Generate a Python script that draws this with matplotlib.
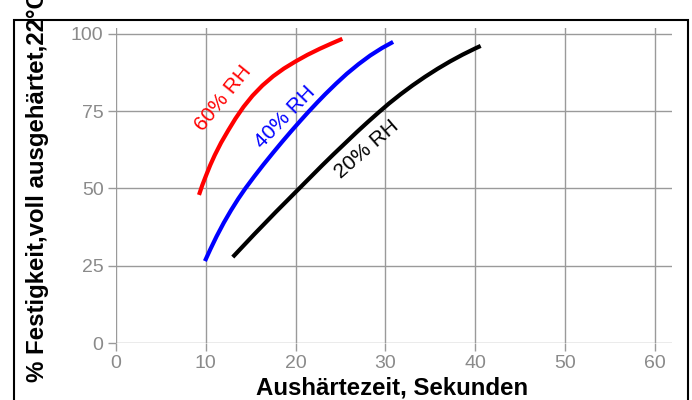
import matplotlib as mpl
mpl.use('Agg')
import matplotlib.pyplot as plt
from matplotlib.patches import Rectangle

plt.rcParams['font.family'] = ['Liberation Sans', 'DejaVu Sans']

# curves: cure time (s) vs % strength
rh60_x = [9.24, 9.6, 10.0, 10.5, 11.0, 11.7, 12.5, 13.3, 14.2, 15.2, 16.3, 17.5,
          18.7, 20.0, 21.3, 22.7, 24.0, 25.2]
rh60_y = [47.9, 51.0, 54.0, 57.6, 60.8, 64.8, 68.8, 72.6, 76.4, 80.0, 83.3, 86.3,
          88.8, 91.1, 93.2, 95.2, 96.9, 98.4]
rh40_x = [9.9, 10.5, 11.2, 12.0, 12.8, 13.6, 14.4, 15.4, 16.4, 17.5, 18.5, 19.5,
          20.5, 21.4, 22.4, 23.3, 24.5, 25.7, 27.0, 28.3, 29.6, 30.85]
rh40_y = [26.5, 30.3, 34.5, 38.9, 42.9, 46.6, 50.0, 53.9, 57.65, 61.6, 65.1, 68.5,
          71.8, 74.7, 77.8, 80.5, 83.9, 87.1, 90.2, 93.0, 95.4, 97.4]
rh20_x = [13.0, 14.2, 15.4, 16.6, 17.8, 19.0, 20.3, 21.6, 22.9, 24.2, 25.5, 26.8,
          28.0, 29.2, 30.4, 31.7, 33.0, 34.4, 35.8, 37.2, 38.6, 40.0, 40.6]
rh20_y = [27.8, 31.5, 35.2, 38.8, 42.4, 45.9, 49.7, 53.5, 57.3, 61.0, 64.6, 68.2,
          71.4, 74.5, 77.5, 80.5, 83.3, 86.1, 88.7, 91.1, 93.3, 95.3, 96.1]

curves = [(rh60_x, rh60_y, '#ff0000', '60% RH', 11.9, 79.3, 51),
          (rh40_x, rh40_y, '#0000ff', '40% RH', 18.8, 73.1, 46),
          (rh20_x, rh20_y, '#000000', '20% RH', 27.95, 62.5, 41)]

xticks = [0, 10, 20, 30, 40, 50, 60]
yticks = [0, 25, 50, 75, 100]

W, H = 692, 400
fig = plt.figure(figsize=(W/100, H/100), dpi=100)
ax = fig.add_axes([116/W, 1-343/H, (672-116)/W, (343-28)/H])
ax.set_xlim(0, 61.9)
ax.set_ylim(0, 101.9)
for s in ax.spines.values():
    s.set_visible(False)

grid_c = '#9a9a9a'
ax.grid(True, color=grid_c, linewidth=1)
ax.set_xticks(xticks)
ax.set_yticks(yticks)
ax.tick_params(colors=grid_c, labelcolor='#8a8a8a', labelsize=14, length=6, width=1, pad=3)

for xs, ys, c, lab, tx, ty, rot in curves:
    ax.plot(xs, ys, color=c, linewidth=3, solid_capstyle='butt', solid_joinstyle='round')
    ax.text(tx, ty, lab, color=c, fontsize=15, rotation=rot,
            ha='center', va='center', rotation_mode='anchor')

fig.text(392/W, 6/H, 'Aushärtezeit, Sekunden', fontsize=17.3, fontweight='bold',
         ha='center', va='baseline')
# the y title runs past the top edge in the reference too
fig.text(38/W, 18/H, '% Festigkeit,voll ausgehärtet,22°C', rotation=90,
         fontsize=17.3, fontweight='bold', ha='center', va='bottom')

# outer frame
fig.patches.append(Rectangle((14/W, -0.1), (688-14)/W, 1.1-20/H, transform=fig.transFigure,
                             fill=False, edgecolor='black', linewidth=1.5))

fig.savefig('out.png', dpi=100)
